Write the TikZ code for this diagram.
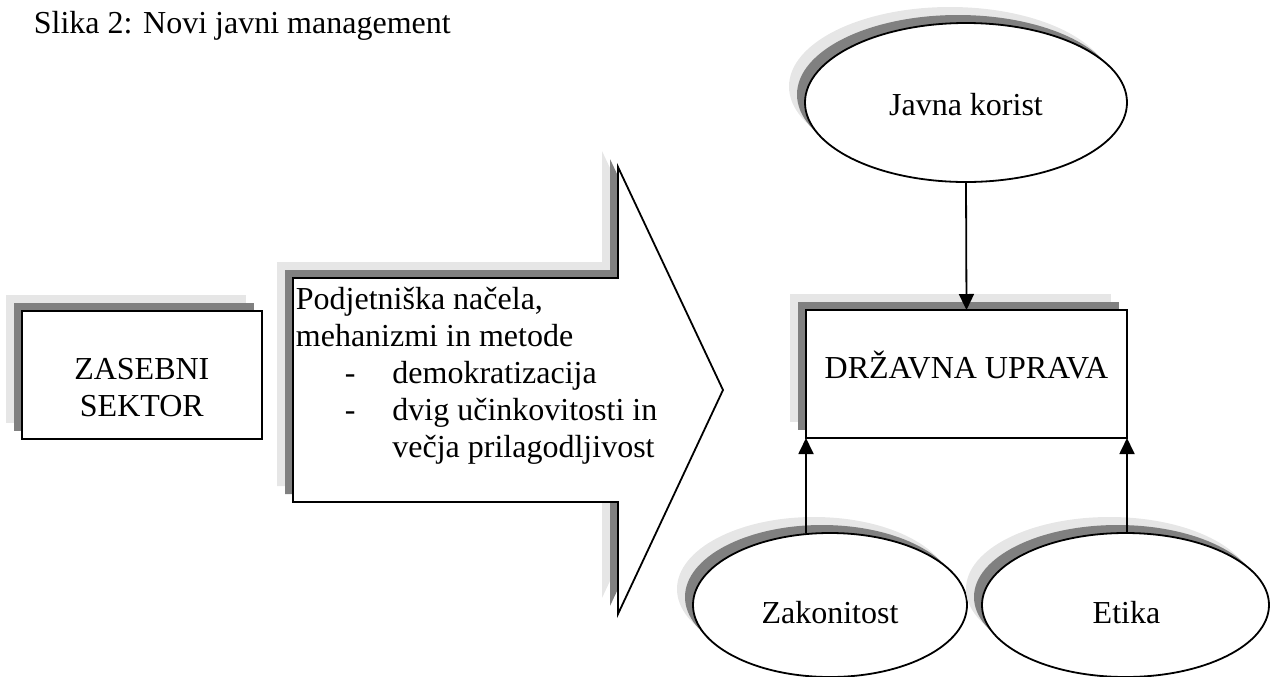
\documentclass[tikz,border=0pt]{standalone}
\usepackage{fontspec}
\setmainfont{Liberation Serif}
\usetikzlibrary{shapes.geometric,shadows,arrows.meta}
\definecolor{shdark}{RGB}{128,128,128}
\definecolor{shlight}{RGB}{230,230,230}
\begin{document}
\begin{tikzpicture}[x=0.5pt,y=-0.5pt,
  line width=0.9pt,
  shadowed/.style={
    general shadow={fill=shlight, shadow xshift=-8pt, shadow yshift=8pt},
    general shadow={fill=shdark, shadow xshift=-4pt, shadow yshift=4pt}},
  boxnode/.style={shadowed, draw, fill=white, rectangle, inner sep=0pt, outer sep=0pt},
  ovalnode/.style={shadowed, draw, fill=white, ellipse, inner sep=0pt, outer sep=0pt},
  txt/.style={font=\fontsize{16pt}{18.5pt}\selectfont, inner sep=0pt, anchor=base},
  ltxt/.style={txt, anchor=base west},
  conn/.style={-{Triangle[length=8pt,width=7.5pt]}}]
\useasboundingbox (0,0) rectangle (1270,676);

% caption
\node[ltxt] (title) at (33,33) {Slika 2: Novi javni management};

% private sector box
\node[boxnode, minimum width=120.15pt, minimum height=64.15pt] (zasebni) at (141.85,374.85) {};
\node[txt] (zasebniA) at (141.85,379) {ZASEBNI};
\node[txt] (zasebniB) at (141.85,416.5) {SEKTOR};

% block arrow
\path[shadowed, draw, fill=white, line join=miter]
  (293,278) -- (618,278) -- (618,167) -- (723,390) -- (618,614) -- (618,502) -- (293,502) -- cycle;
\node[ltxt] (arrA) at (295,309) {Podjetniška načela,};
\node[ltxt] (arrB) at (295,346) {mehanizmi in metode};
\node[ltxt] (dashA) at (344,383) {-};
\node[ltxt] (arrC) at (391.5,383) {demokratizacija};
\node[ltxt] (dashB) at (344,420) {-};
\node[ltxt] (arrD) at (391.5,420) {dvig učinkovitosti in};
\node[ltxt] (arrE) at (391.5,457) {večja prilagodljivost};

% public administration and its influences
\node[ovalnode, minimum width=161pt, minimum height=79.5pt] (javna) at (966,102.5) {};
\node[txt] (javnaT) at (966,115) {Javna korist};

\node[boxnode, minimum width=160.5pt, minimum height=64pt] (uprava) at (966.5,374) {};
\node[txt] (upravaT) at (966.5,378) {DRŽAVNA UPRAVA};

\node[ovalnode, minimum width=137pt, minimum height=72pt] (zakon) at (830,605) {};
\node[txt] (zakonT) at (830,623) {Zakonitost};

\node[ovalnode, minimum width=143.5pt, minimum height=72pt] (etika) at (1125.5,605) {};
\node[txt] (etikaT) at (1126.5,623) {Etika};

% connectors
\draw[conn] (javna.south) -- (uprava.north);
\draw[conn] (zakon.north -| uprava.south west) -- (uprava.south west);
\draw[conn] (etika.north -| uprava.south east) -- (uprava.south east);
\end{tikzpicture}
\end{document}
